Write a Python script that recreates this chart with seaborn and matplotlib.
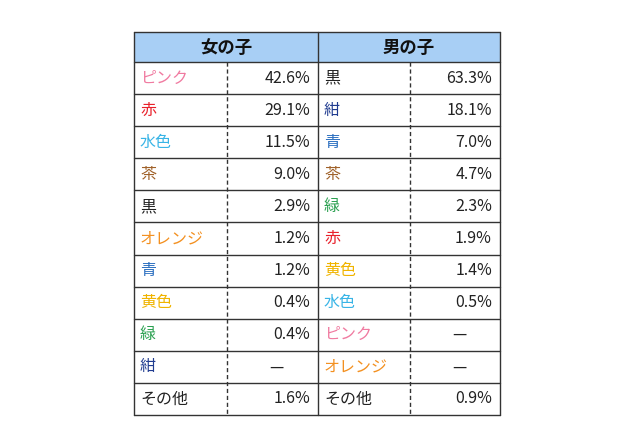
import matplotlib
matplotlib.use("Agg")
import matplotlib.pyplot as plt
import seaborn as sns
from matplotlib.patches import Rectangle

headers = ["女の子", "男の子"]
girls_colors = ["ピンク", "赤", "水色", "茶", "黒", "オレンジ", "青", "黄色", "緑", "紺", "その他"]
girls_values = ["42.6%", "29.1%", "11.5%", "9.0%", "2.9%", "1.2%", "1.2%", "0.4%", "0.4%", "—", "1.6%"]
boys_colors = ["黒", "紺", "青", "茶", "緑", "赤", "黄色", "水色", "ピンク", "オレンジ", "その他"]
boys_values = ["63.3%", "18.1%", "7.0%", "4.7%", "2.3%", "1.9%", "1.4%", "0.5%", "—", "—", "0.9%"]

# text colour for each colour name
name_color = {
    "ピンク": "#f07aa0", "赤": "#e8202a", "水色": "#38b4e6", "茶": "#a0622a",
    "黒": "#222222", "オレンジ": "#f39020", "青": "#2a6ec0", "黄色": "#f0b400",
    "緑": "#2aa050", "紺": "#203c90", "その他": "#222222",
}

sns.set_theme(style="white", font="Noto Sans CJK JP")
fig = plt.figure(figsize=(6.4, 4.26), dpi=100)
ax = fig.add_axes([0, 0, 1, 1])
ax.set_xlim(0, 640)
ax.set_ylim(426, 0)
ax.axis("off")

left, mid, right = 134, 318, 500
dash_g, dash_b = 227, 410
top, head_bot, bottom = 32, 62, 415
n = len(girls_colors)
row_h = (bottom - head_bot) / n

ax.add_patch(Rectangle((left, top), right - left, head_bot - top, facecolor="#a8cff5", edgecolor="none"))
for i, h in enumerate(headers):
    x0, x1 = (left, mid) if i == 0 else (mid, right)
    ax.text((x0 + x1) / 2, (top + head_bot) / 2 + 1, h, ha="center", va="center",
            fontsize=12.5, fontweight="bold", color="#111111")

# grid lines
for y in [top, head_bot] + [head_bot + row_h * k for k in range(1, n + 1)]:
    ax.plot([left, right], [y, y], color="#333333", lw=1)
for x in [left, mid, right]:
    ax.plot([x, x], [top, bottom], color="#333333", lw=1)
for x in [dash_g, dash_b]:
    ax.plot([x, x], [head_bot, bottom], color="#333333", lw=1, ls=(0, (3, 2)))

for k in range(n):
    yc = head_bot + row_h * (k + 0.5)
    for names, vals, x0, xd, x1 in [(girls_colors, girls_values, left, dash_g, mid),
                                     (boys_colors, boys_values, mid, dash_b, right)]:
        ax.text(x0 + 6, yc, names[k], ha="left", va="center", fontsize=11.5,
                color=name_color[names[k]])
        if vals[k] == "—":
            ax.text((xd + x1) / 2 + 4, yc, "—", ha="center", va="center", fontsize=11.5, color="#222222")
        else:
            ax.text(x1 - 8, yc, vals[k], ha="right", va="center", fontsize=11.5, color="#222222")

fig.savefig("out.png", dpi=100)
